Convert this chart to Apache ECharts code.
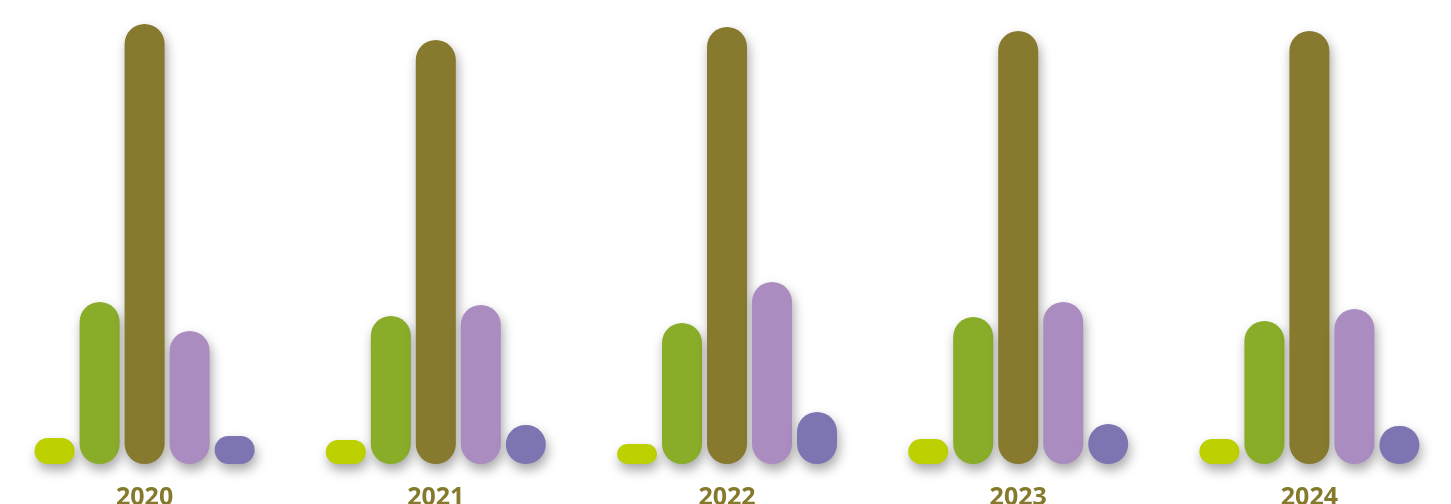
<!DOCTYPE html>
<html>
<head>
<meta charset="utf-8">
<script src="https://cdn.jsdelivr.net/npm/echarts@6/dist/echarts.min.js"></script>
<style>
html,body{margin:0;padding:0;background:#ffffff;}
#chart{width:1451px;height:504px;}
</style>
</head>
<body>
<div id="chart"></div>
<script>
const categories = ['2020', '2021', '2022', '2023', '2024'];
const seriesNames = ['Series A', 'Series B', 'Series C', 'Series D', 'Series E'];
const seriesA = [26, 24, 20, 25, 25];
const seriesB = [162, 148, 141, 147, 143];
const seriesC = [440, 424, 437, 433, 433];
const seriesD = [133, 159, 182, 162, 155];
const seriesE = [28, 39, 52, 40, 38];
const colors = ['#bed100', '#89ad29', '#877a2f', '#ab8cc1', '#7c75b1'];

const allSeries = [seriesA, seriesB, seriesC, seriesD, seriesE];
const chart = echarts.init(document.getElementById('chart'));
chart.setOption({
  animation: false,
  backgroundColor: '#ffffff',
  grid: { left: -1, width: 1456, top: 24, bottom: 40, containLabel: false, outerBoundsMode: 'none' },
  xAxis: {
    type: 'category',
    data: categories,
    axisLine: { show: false },
    axisTick: { show: false },
    axisLabel: {
      margin: 21,
      fontFamily: 'Open Sans',
      fontWeight: 'bold',
      fontSize: 25,
      color: '#857a2c'
    }
  },
  yAxis: {
    type: 'value',
    min: 0,
    max: 440,
    show: false,
    splitLine: { show: false }
  },
  series: allSeries.map((d, i) => ({
    name: seriesNames[i],
    type: 'bar',
    data: d,
    barWidth: 40,
    barGap: '12.5%',
    itemStyle: {
      color: colors[i],
      borderRadius: 20,
      shadowColor: 'rgba(0,0,0,0.35)',
      shadowBlur: 12,
      shadowOffsetX: 2,
      shadowOffsetY: 6
    }
  }))
});
</script>
</body>
</html>
